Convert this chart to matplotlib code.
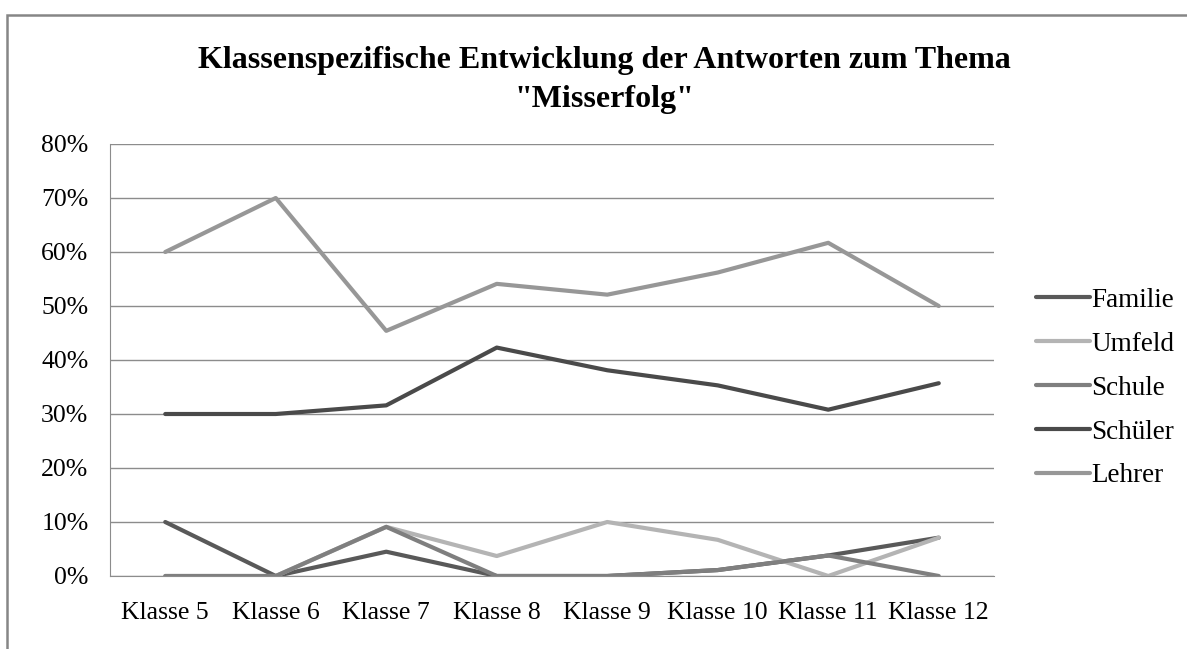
import matplotlib
matplotlib.use("Agg")
import matplotlib.pyplot as plt
from matplotlib.patches import Rectangle
from matplotlib.ticker import FuncFormatter

classes = ["Klasse 5", "Klasse 6", "Klasse 7", "Klasse 8",
           "Klasse 9", "Klasse 10", "Klasse 11", "Klasse 12"]

familie = [10.0, 0.0, 4.5, 0.0, 0.0, 1.1, 3.8, 7.1]
umfeld = [0.0, 0.0, 9.1, 3.7, 10.0, 6.7, 0.0, 7.1]
schule = [0.0, 0.0, 9.1, 0.0, 0.0, 1.1, 3.8, 0.0]
schueler = [30.0, 30.0, 31.6, 42.3, 38.1, 35.3, 30.8, 35.7]
lehrer = [60.0, 70.0, 45.4, 54.1, 52.1, 56.2, 61.7, 50.0]

series = [
    ("Familie", familie, "#595959"),
    ("Umfeld", umfeld, "#b4b4b4"),
    ("Schule", schule, "#7f7f7f"),
    ("Schüler", schueler, "#4a4a4a"),
    ("Lehrer", lehrer, "#979797"),
]

plt.rcParams["font.family"] = ["Liberation Serif", "DejaVu Serif"]

fig = plt.figure(figsize=(11.87, 6.49), dpi=100)
ax = fig.add_axes([110 / 1187, 73 / 649, 884 / 1187, 432 / 649])

x = list(range(len(classes)))
for name, vals, col in series:
    ax.plot(x, vals, color=col, lw=3, label=name, solid_capstyle="round",
            solid_joinstyle="round")

ax.set_xlim(-0.5, len(classes) - 0.5)
ax.set_ylim(0, 80)
ax.set_yticks(range(0, 81, 10))
ax.yaxis.set_major_formatter(FuncFormatter(lambda v, p: f"{int(v)}%"))
ax.set_xticks(x)
ax.set_xticklabels(classes)
ax.grid(axis="y", color="#8c8c8c", lw=1)
ax.set_axisbelow(True)
ax.tick_params(length=0, labelsize=18.5, colors="black")
ax.tick_params(axis="y", pad=15.5)
ax.tick_params(axis="x", pad=19)
for s in ["top", "right"]:
    ax.spines[s].set_visible(False)
ax.spines["left"].set_color("#8c8c8c")
ax.spines["bottom"].set_color("#8c8c8c")

fig.text(604 / 1187, 1 - 80 / 649,
         "Klassenspezifische Entwicklung der Antworten zum Thema\n\"Misserfolg\"",
         ha="center", va="center", fontsize=23, fontweight="bold",
         linespacing=1.45)

leg = ax.legend(loc="center left", bbox_to_anchor=(1.02, 0.435), frameon=False,
                fontsize=19.5, handlelength=2.0, handletextpad=0.05,
                labelspacing=0.7)

fig.patches.append(Rectangle((7 / 1187, -0.1), 1.2, 0.1 + (649 - 15) / 649,
                             transform=fig.transFigure, fill=False,
                             edgecolor="#868686", lw=1.8))

fig.savefig("out.png", dpi=100)
